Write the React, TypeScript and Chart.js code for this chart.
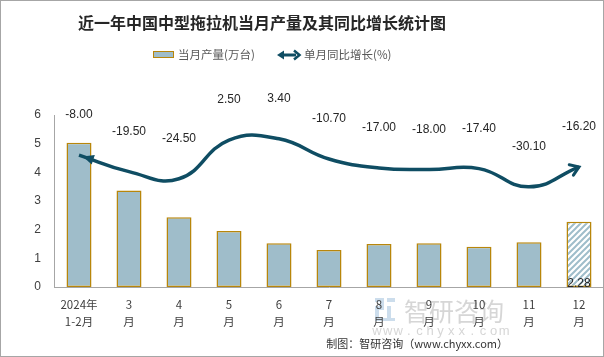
import React, { useEffect, useRef } from "react";
import { Chart, registerables } from "chart.js";

Chart.register(...registerables);

const categories: string[][] = [
  ["2024年", "1-2月"],
  ["3", "月"],
  ["4", "月"],
  ["5", "月"],
  ["6", "月"],
  ["7", "月"],
  ["8", "月"],
  ["9", "月"],
  ["10", "月"],
  ["11", "月"],
  ["12", "月"],
];
const production: number[] = [5.03, 3.37, 2.43, 1.95, 1.53, 1.29, 1.5, 1.53, 1.4, 1.56, 2.28];
const growth: number[] = [-8.0, -19.5, -24.5, 2.5, 3.4, -10.7, -17.0, -18.0, -17.4, -30.1, -16.2];
const yTicks: number[] = [0, 1, 2, 3, 4, 5, 6];

const TITLE = "近一年中国中型拖拉机当月产量及其同比增长统计图";
const BAR_LABEL = "当月产量(万台)";
const LINE_LABEL = "单月同比增长(%)";
const FOOTER = "制图：智研咨询（www.chyxx.com）";

const BAR_FILL = "#9FBDCA";
const BAR_BORDER = "#B8860B";
const LINE_COLOR = "#0F4D63";
const CJK = "'Noto Sans CJK SC', 'Liberation Sans', sans-serif";
const NUM = "'Liberation Sans', 'Noto Sans CJK SC', sans-serif";

function makePattern(): CanvasPattern | string {
  const c = document.createElement("canvas");
  c.width = 6;
  c.height = 6;
  const g = c.getContext("2d");
  if (!g) return BAR_FILL;
  g.fillStyle = "#ffffff";
  g.fillRect(0, 0, 6, 6);
  g.strokeStyle = BAR_FILL;
  g.lineWidth = 2;
  g.beginPath();
  g.moveTo(-1, 7);
  g.lineTo(7, -1);
  g.moveTo(-4, 4);
  g.lineTo(4, -4);
  g.moveTo(2, 10);
  g.lineTo(10, 2);
  g.stroke();
  const p = g.createPattern(c, "repeat");
  return p || BAR_FILL;
}

const decorPlugin = {
  id: "decor",
  beforeDraw(chart: any) {
    const ctx = chart.ctx as CanvasRenderingContext2D;
    ctx.save();
    ctx.fillStyle = "#ffffff";
    ctx.fillRect(0, 0, chart.width, chart.height);
    // watermark logo
    ctx.fillStyle = "#CCDDEC";
    ctx.fillRect(375, 298, 9, 4);
    ctx.fillRect(380, 302, 4, 6);
    ctx.fillRect(375, 306, 9, 4);
    ctx.fillRect(375, 310, 4, 10);
    ctx.fillRect(387, 298, 8, 4);
    ctx.fillRect(387, 306, 4, 14);
    ctx.fillRect(375, 318, 20, 3);
    ctx.fillStyle = "#D6D6D6";
    ctx.font = `25px ${CJK}`;
    ctx.textBaseline = "middle";
    ctx.textAlign = "left";
    ctx.fillText("智研咨询", 404, 311);
    ctx.font = `13px ${NUM}`;
    ctx.textAlign = "center";
    const wm = "www.chyxx.com";
    for (let i = 0; i < wm.length; i++) {
      ctx.fillText(wm[i], 377 + i * 10.6, 331);
    }
    ctx.restore();
  },
  afterDraw(chart: any) {
    const ctx = chart.ctx as CanvasRenderingContext2D;
    ctx.save();
    // title
    ctx.fillStyle = "#262626";
    ctx.font = `bold 16px ${CJK}`;
    ctx.textAlign = "center";
    ctx.textBaseline = "middle";
    ctx.fillText(TITLE, 262, 23);
    // legend: bar
    ctx.fillStyle = BAR_FILL;
    ctx.fillRect(153, 51, 21, 7);
    ctx.strokeStyle = BAR_BORDER;
    ctx.lineWidth = 1;
    ctx.strokeRect(153.5, 51.5, 20, 6);
    ctx.fillStyle = "#595959";
    ctx.font = `11.5px ${CJK}`;
    ctx.textAlign = "left";
    ctx.fillText(BAR_LABEL, 178, 55);
    // legend: line with double arrow
    ctx.strokeStyle = LINE_COLOR;
    ctx.fillStyle = LINE_COLOR;
    ctx.lineWidth = 3;
    ctx.beginPath();
    ctx.moveTo(282, 55);
    ctx.lineTo(296, 55);
    ctx.stroke();
    ctx.beginPath();
    ctx.moveTo(277, 55);
    ctx.lineTo(284, 50.5);
    ctx.lineTo(284, 59.5);
    ctx.closePath();
    ctx.fill();
    ctx.lineWidth = 2.5;
    ctx.beginPath();
    ctx.moveTo(294, 50.5);
    ctx.lineTo(299.5, 55);
    ctx.lineTo(294, 59.5);
    ctx.stroke();
    ctx.fillStyle = "#595959";
    ctx.fillText(LINE_LABEL, 304, 55);
    // footer
    ctx.fillStyle = "#333333";
    ctx.font = `11px ${CJK}`;
    ctx.textAlign = "right";
    ctx.fillText(FOOTER, 508, 344);
    // frame
    ctx.strokeStyle = "#A6A6A6";
    ctx.lineWidth = 1;
    ctx.strokeRect(0.5, 0.5, chart.width - 1, chart.height - 1);
    ctx.restore();
  },
  afterDatasetsDraw(chart: any) {
    const ctx = chart.ctx as CanvasRenderingContext2D;
    const lineMeta = chart.getDatasetMeta(1);
    const pts = lineMeta.data as any[];
    ctx.save();
    // arrowheads
    if (pts.length > 1) {
      const p0 = pts[0];
      const cx = p0.cp2x ?? pts[1].x;
      const cy = p0.cp2y ?? pts[1].y;
      let ang = Math.atan2(p0.y - cy, p0.x - cx);
      ctx.fillStyle = LINE_COLOR;
      ctx.beginPath();
      const L = 11, W = 5;
      const tx = p0.x - 4 * Math.cos(ang), ty = p0.y - 4 * Math.sin(ang);
      ctx.moveTo(tx, ty);
      ctx.lineTo(tx - L * Math.cos(ang) + W * Math.sin(ang), ty - L * Math.sin(ang) - W * Math.cos(ang));
      ctx.lineTo(tx - L * Math.cos(ang) - W * Math.sin(ang), ty - L * Math.sin(ang) + W * Math.cos(ang));
      ctx.closePath();
      ctx.fill();
      const pn = pts[pts.length - 1];
      const px = pn.cp1x ?? pts[pts.length - 2].x;
      const py = pn.cp1y ?? pts[pts.length - 2].y;
      ang = Math.atan2(pn.y - py, pn.x - px);
      ctx.strokeStyle = LINE_COLOR;
      ctx.lineWidth = 3;
      ctx.lineCap = "round";
      ctx.lineJoin = "miter";
      const L2 = 10, A = 0.6;
      ctx.beginPath();
      ctx.moveTo(pn.x - L2 * Math.cos(ang - A), pn.y - L2 * Math.sin(ang - A));
      ctx.lineTo(pn.x, pn.y);
      ctx.lineTo(pn.x - L2 * Math.cos(ang + A), pn.y - L2 * Math.sin(ang + A));
      ctx.stroke();
    }
    // line labels
    ctx.fillStyle = "#262626";
    ctx.font = `12px ${NUM}`;
    ctx.textAlign = "center";
    ctx.textBaseline = "middle";
    pts.forEach((pt: any, i: number) => {
      ctx.fillText(growth[i].toFixed(2), pt.x, pt.y - 40);
    });
    // last bar label
    const barMeta = chart.getDatasetMeta(0);
    const last = barMeta.data[barMeta.data.length - 1] as any;
    ctx.fillStyle = "#262626";
    ctx.textBaseline = "alphabetic";
    ctx.fillText(production[production.length - 1].toFixed(2), last.x, chart.chartArea.bottom);
    ctx.restore();
  },
};

export default function App() {
  const ref = useRef<HTMLCanvasElement | null>(null);
  useEffect(() => {
    document.body.style.margin = "0";
    const canvas = ref.current;
    if (!canvas) return;
    const pattern = makePattern();
    const barColors = production.map((_, i) => (i === production.length - 1 ? pattern : BAR_FILL));
    const chart = new Chart(canvas, {
      type: "bar",
      data: {
        labels: categories,
        datasets: [
          {
            type: "bar",
            label: BAR_LABEL,
            data: production,
            backgroundColor: barColors as any,
            borderColor: BAR_BORDER,
            borderWidth: 1.5,
            borderSkipped: false,
            barPercentage: 0.5,
            categoryPercentage: 1,
            yAxisID: "y",
            order: 2,
          },
          {
            type: "line",
            label: LINE_LABEL,
            data: growth,
            borderColor: LINE_COLOR,
            borderWidth: 3.5,
            pointRadius: 0,
            tension: 0.45,
            fill: false,
            yAxisID: "y1",
            order: 1,
          } as any,
        ],
      },
      options: {
        responsive: false,
        animation: false,
        layout: { padding: { top: 115, left: 0, right: 0, bottom: 0 } },
        plugins: {
          legend: { display: false },
          title: { display: false },
          tooltip: { enabled: false },
        },
        scales: {
          x: {
            offset: true,
            grid: { display: false, drawTicks: false },
            border: { display: true, color: "#A6A6A6", width: 1 },
            ticks: {
              color: "#404040",
              font: { size: 11.5, family: CJK, lineHeight: 1.5 },
              padding: 9,
              maxRotation: 0,
              autoSkip: false,
            },
            afterFit: (s: any) => {
              s.height = 70;
            },
          },
          y: {
            min: 0,
            max: 6,
            afterBuildTicks: (s: any) => {
              s.ticks = yTicks.map((v) => ({ value: v }));
            },
            grid: { display: false, drawTicks: false },
            border: { display: true, color: "#A6A6A6", width: 1 },
            ticks: {
              color: "#404040",
              font: { size: 12, family: NUM },
              padding: 13,
            },
            afterFit: (s: any) => {
              s.width = 54;
            },
          },
          y1: {
            display: false,
            min: -100,
            max: 20,
            position: "right",
          },
        },
      },
      plugins: [decorPlugin],
    });
    return () => chart.destroy();
  }, []);
  return <canvas ref={ref} width={604} height={357} style={{ display: "block" }} />;
}
